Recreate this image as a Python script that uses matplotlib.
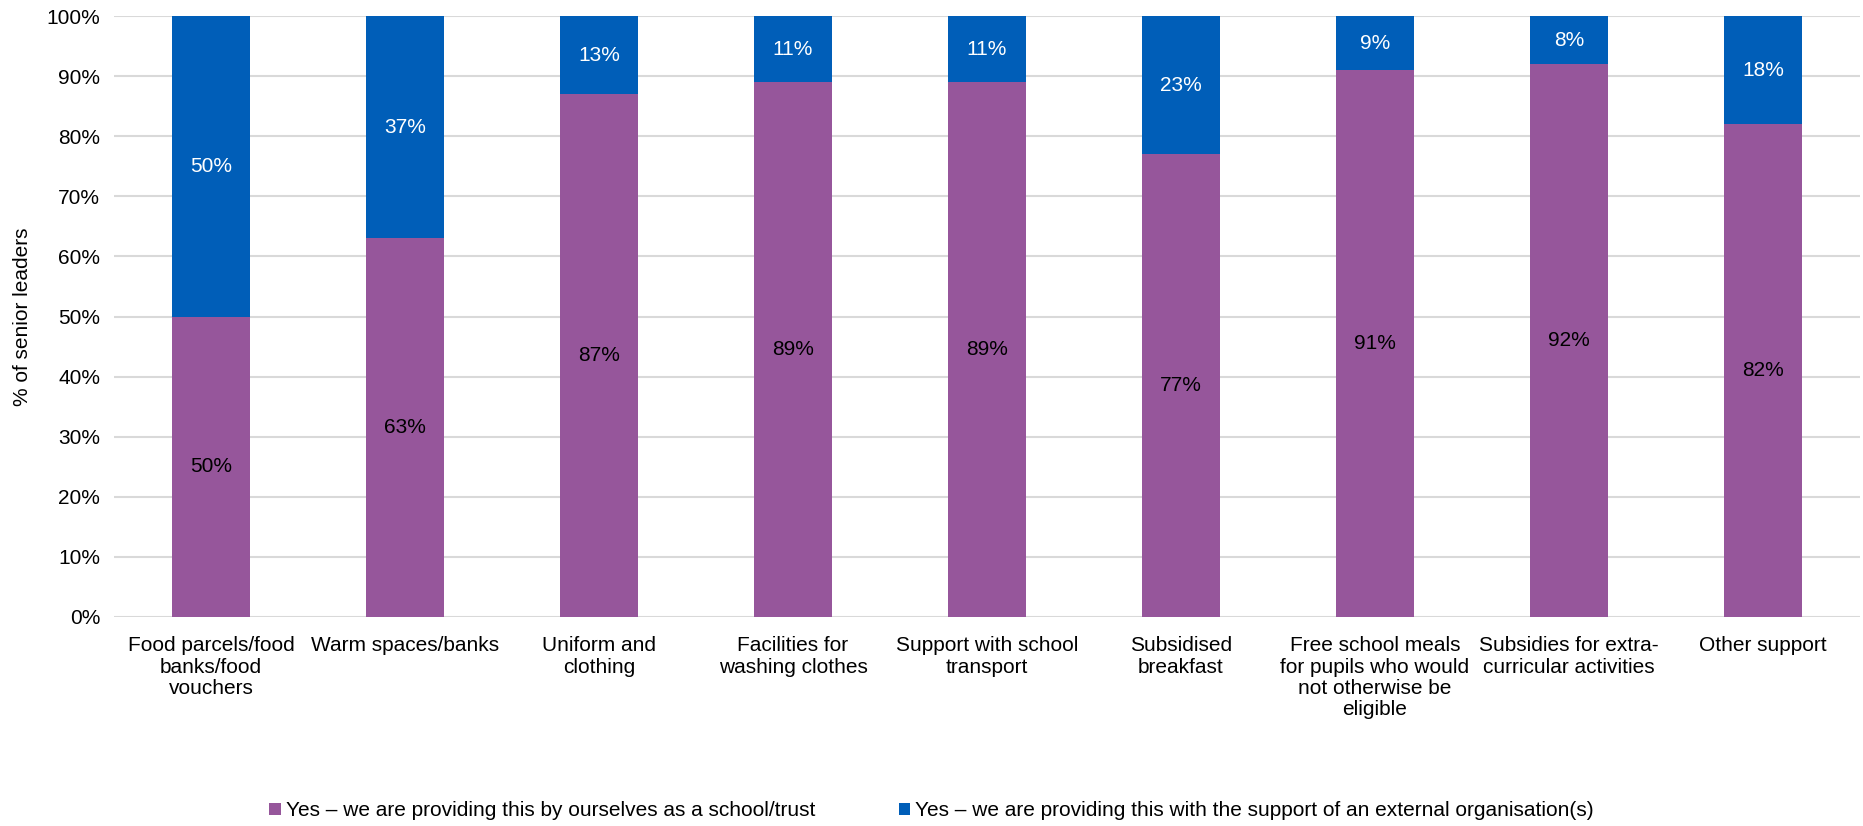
import numpy as np
import matplotlib.pyplot as plt

plt.rcParams['font.family'] = ['Liberation Sans', 'DejaVu Sans']

categories = [
    'Food parcels/food\nbanks/food\nvouchers',
    'Warm spaces/banks',
    'Uniform and\nclothing',
    'Facilities for\nwashing clothes',
    'Support with school\ntransport',
    'Subsidised\nbreakfast',
    'Free school meals\nfor pupils who would\nnot otherwise be\neligible',
    'Subsidies for extra-\ncurricular activities',
    'Other support',
]
by_school = [50, 63, 87, 89, 89, 77, 91, 92, 82]
with_external = [50, 37, 13, 11, 11, 23, 9, 8, 18]
series_names = [
    'Yes \u2013 we are providing this by ourselves as a school/trust',
    'Yes \u2013 we are providing this with the support of an external organisation(s)',
]

purple = '#96569B'
blue = '#005EB8'
fs = 15

fig = plt.figure(figsize=(18.63, 8.26), dpi=100)
ax = fig.add_axes([114 / 1863, 1 - 617 / 826, 1746 / 1863, 601 / 826])

x = np.arange(len(categories))
w = 0.4
ax.bar(x, by_school, w, color=purple, label=series_names[0], zorder=3)
ax.bar(x, with_external, w, bottom=by_school, color=blue,
       label=series_names[1], zorder=3)

for i in range(len(x)):
    ax.text(x[i], by_school[i] / 2, f'{by_school[i]}%', ha='center',
            va='center', fontsize=fs, color='black', zorder=4)
    ax.text(x[i], by_school[i] + with_external[i] / 2, f'{with_external[i]}%',
            ha='center', va='center', fontsize=fs, color='white', zorder=4)

ax.set_xlim(-0.5, len(categories) - 0.5)
ax.set_ylim(0, 100)
ax.set_yticks(np.arange(0, 101, 10))
ax.set_yticklabels([f'{v}%' for v in range(0, 101, 10)], fontsize=fs)
ax.set_xticks(x)
ax.set_xticklabels(categories, fontsize=fs, linespacing=1.15)
ax.tick_params(axis='x', length=0, pad=14)
ax.tick_params(axis='y', length=0, pad=10)
ax.grid(axis='y', color='#D9D9D9', linewidth=1.5, zorder=0)
for s in ax.spines.values():
    s.set_visible(False)
ax.set_ylabel('% of senior leaders', fontsize=fs, labelpad=10)

fig.legend(loc='center', bbox_to_anchor=(0.5, 1 - 811 / 826), ncol=2,
           frameon=False, fontsize=fs, handlelength=0.55, handleheight=0.55,
           handletextpad=0.25, columnspacing=4)

plt.savefig('out.png', dpi=100)
